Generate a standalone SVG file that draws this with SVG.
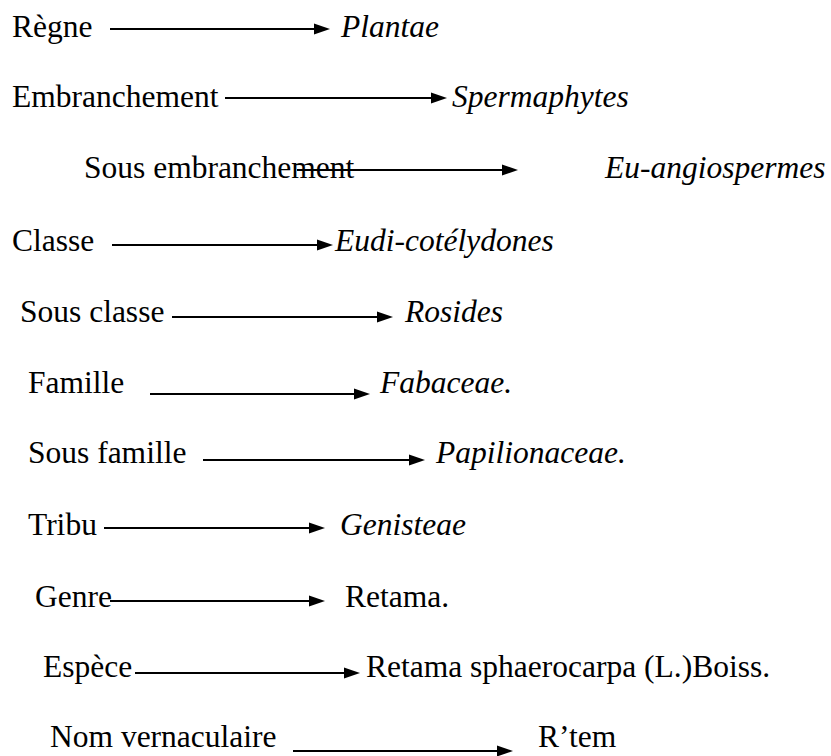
<svg xmlns="http://www.w3.org/2000/svg" width="831" height="756" viewBox="0 0 831 756">
<style>
text{font-family:'Liberation Serif','Times New Roman',serif;font-size:31.5px;fill:#000}
.i{font-style:italic}
.c line{stroke:#000;stroke-width:1.8;marker-end:url(#ah)}
</style>
<defs>
<marker id="ah" viewBox="0 -6 16 12" refX="0" refY="0" markerUnits="userSpaceOnUse" markerWidth="16" markerHeight="12" orient="auto">
<path d="M0,-5.5 L16,0 L0,5.5 z" fill="#000"/>
</marker>
</defs>
<rect width="831" height="756" fill="#fff"/>
<g id="regne"><text x="12" y="37">Règne</text></g>
<g id="plantae"><text class="i" x="341" y="37">Plantae</text></g>
<g id="embranchement"><text x="12" y="107">Embranchement</text></g>
<g id="spermaphytes"><text class="i" x="452" y="107">Spermaphytes</text></g>
<g id="sous-embranchement"><text x="84" y="178">Sous embranchement</text></g>
<g id="eu-angiospermes"><text class="i" x="605" y="178">Eu-angiospermes</text></g>
<g id="classe"><text x="12" y="251">Classe</text></g>
<g id="eudi"><text class="i" x="335" y="251">Eudi-cotélydones</text></g>
<g id="sous-classe"><text x="20" y="322">Sous classe</text></g>
<g id="rosides"><text class="i" x="405" y="322">Rosides</text></g>
<g id="famille"><text x="28" y="393">Famille</text></g>
<g id="fabaceae"><text class="i" x="380" y="393">Fabaceae.</text></g>
<g id="sous-famille"><text x="28" y="463">Sous famille</text></g>
<g id="papilionaceae"><text class="i" x="436" y="463">Papilionaceae.</text></g>
<g id="tribu"><text x="28" y="535">Tribu</text></g>
<g id="genisteae"><text class="i" x="340" y="535">Genisteae</text></g>
<g id="genre"><text x="35" y="607">Genre</text></g>
<g id="retama"><text x="345" y="607">Retama.</text></g>
<g id="espece"><text x="43" y="677">Espèce</text></g>
<g id="retama-sp"><text x="366" y="677">Retama sphaerocarpa (L.)Boiss.</text></g>
<g id="nom-vernaculaire"><text x="50" y="747">Nom vernaculaire</text></g>
<g id="rtem"><text x="538" y="747">R’tem</text></g>
<g id="connectors" class="c">
<line x1="110" y1="29" x2="314" y2="29"/>
<line x1="225" y1="98" x2="431" y2="98"/>
<line x1="297" y1="170" x2="502" y2="170"/>
<line x1="112" y1="245" x2="317" y2="245"/>
<line x1="172" y1="317" x2="377" y2="317"/>
<line x1="150" y1="394" x2="354" y2="394"/>
<line x1="203" y1="460" x2="409" y2="460"/>
<line x1="104" y1="528" x2="309" y2="528"/>
<line x1="110" y1="601" x2="309" y2="601"/>
<line x1="135" y1="673" x2="344" y2="673"/>
<line x1="293" y1="751" x2="497" y2="751"/>
</g>
</svg>
